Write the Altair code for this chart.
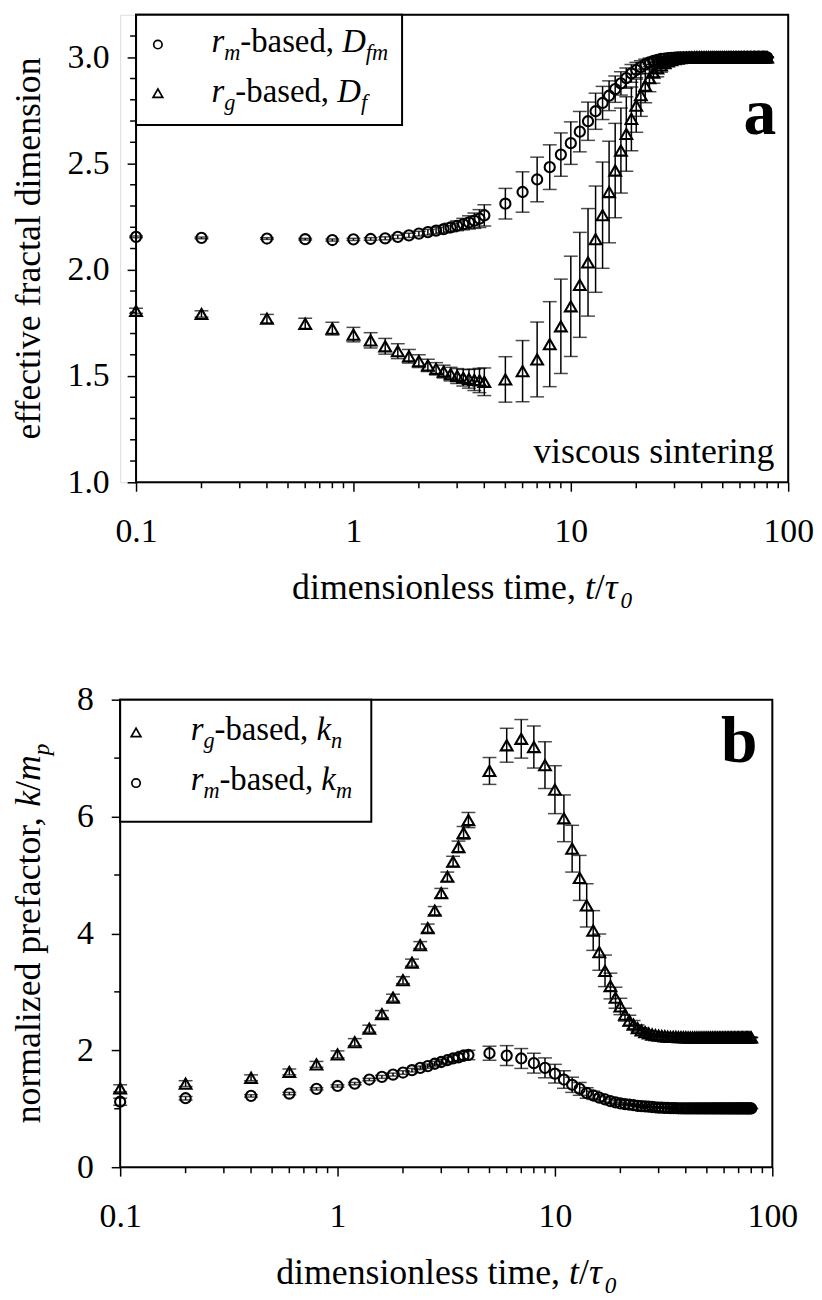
import altair as alt
import pandas as pd

FONT = "Liberation Serif"

# ---------------- data ----------------
t = [0.1, 0.2, 0.4, 0.6, 0.8, 1.0, 1.2, 1.4, 1.6, 1.8, 2.0, 2.2, 2.4, 2.6, 2.8, 3.0, 3.2, 3.4, 3.6, 3.8, 4.0,
     5, 6, 7, 8, 9, 10,
     11, 12, 13, 14, 15, 16, 17, 18, 19, 20,
     21, 22, 23, 24, 25, 26, 27, 28, 29, 30,
     31, 32, 33, 34, 35, 36, 37, 38, 39, 40,
     41, 42, 43, 44, 45, 46, 47, 48, 49, 50,
     51, 52, 53, 54, 55, 56, 57, 58, 59, 60,
     61, 62, 63, 64, 65, 66, 67, 68, 69, 70,
     71, 72, 73, 74, 75, 76, 77, 78, 79, 80]

# panel a: r_m-based D_fm (circles)
Dfm = [2.155, 2.150, 2.147, 2.144, 2.140, 2.143, 2.145, 2.148, 2.155, 2.162, 2.170, 2.177, 2.184, 2.191, 2.199,
       2.207, 2.215, 2.223, 2.231, 2.241, 2.256,
       2.311, 2.366, 2.425, 2.483, 2.542, 2.596,
       2.650, 2.699, 2.746, 2.785, 2.819, 2.850, 2.877, 2.902, 2.924, 2.940,
       2.954, 2.966, 2.976, 2.983, 2.988, 2.992, 2.994, 2.996, 2.997, 2.998,
       2.999, 2.999, 3.000, 3.000, 3.000, 3.000, 3.000, 3.000, 3.000, 3.000,
       3.000, 3.000, 3.000, 3.000, 3.000, 3.000, 3.000, 3.000, 3.000, 3.000,
       3.000, 3.000, 3.000, 3.000, 3.000, 3.000, 3.000, 3.000, 3.000, 3.000,
       3.000, 3.000, 3.000, 3.000, 3.000, 3.000, 3.000, 3.000, 3.000, 3.000,
       3.000, 3.000, 3.000, 3.000, 3.000, 3.000, 3.000, 3.000, 3.000, 3.000]
Dfm_err = [0.004, 0.004, 0.004, 0.004, 0.005, 0.005, 0.006, 0.007, 0.008, 0.010, 0.011, 0.013, 0.015, 0.017, 0.020,
           0.023, 0.027, 0.031, 0.036, 0.042, 0.050,
           0.072, 0.095, 0.105, 0.105, 0.102, 0.100,
           0.095, 0.090, 0.085, 0.078, 0.070, 0.062, 0.055, 0.048, 0.042, 0.036,
           0.030, 0.025, 0.020, 0.016, 0.013, 0.010, 0.008, 0.007, 0.006, 0.005,
           0.005, 0.004, 0.004, 0.004, 0.004, 0.003, 0.003, 0.003, 0.003, 0.003,
           0.003, 0.003, 0.003, 0.003, 0.003, 0.003, 0.003, 0.003, 0.003, 0.003,
           0.002, 0.002, 0.002, 0.002, 0.002, 0.002, 0.002, 0.002, 0.002, 0.002,
           0.002, 0.002, 0.002, 0.002, 0.002, 0.002, 0.002, 0.002, 0.002, 0.002,
           0.002, 0.002, 0.002, 0.002, 0.002, 0.002, 0.002, 0.002, 0.002, 0.002]

# panel a: r_g-based D_f (triangles)
Df = [1.807, 1.792, 1.770, 1.746, 1.723, 1.695, 1.668, 1.640, 1.617, 1.593, 1.570, 1.550, 1.534, 1.521, 1.509,
      1.500, 1.492, 1.487, 1.482, 1.479, 1.473,
      1.484, 1.523, 1.578, 1.650, 1.734, 1.828,
      1.929, 2.035, 2.144, 2.257, 2.366, 2.467, 2.561, 2.639, 2.710, 2.772,
      2.822, 2.866, 2.902, 2.928, 2.948, 2.962, 2.973, 2.981, 2.987, 2.991,
      2.994, 2.996, 2.997, 2.998, 2.999, 2.999, 3.000, 3.000, 3.000, 3.000,
      3.000, 3.000, 3.000, 3.000, 3.000, 3.000, 3.000, 3.000, 3.000, 3.000,
      3.000, 3.000, 3.000, 3.000, 3.000, 3.000, 3.000, 3.000, 3.000, 3.000,
      3.000, 3.000, 3.000, 3.000, 3.000, 3.000, 3.000, 3.000, 3.000, 3.000,
      3.000, 3.000, 3.000, 3.000, 3.000, 3.000, 3.000, 3.000, 3.000, 3.000]
Df_err = [0.012, 0.015, 0.020, 0.026, 0.030, 0.034, 0.036, 0.037, 0.035, 0.032, 0.030, 0.029, 0.029, 0.030, 0.032,
          0.035, 0.039, 0.044, 0.050, 0.057, 0.065,
          0.107, 0.144, 0.176, 0.200, 0.222, 0.236,
          0.247, 0.253, 0.250, 0.250, 0.239, 0.222, 0.200, 0.175, 0.150, 0.125,
          0.100, 0.080, 0.064, 0.050, 0.040, 0.032, 0.025, 0.020, 0.016, 0.013,
          0.010, 0.009, 0.008, 0.007, 0.006, 0.005, 0.005, 0.004, 0.004, 0.004,
          0.003, 0.003, 0.003, 0.003, 0.003, 0.003, 0.003, 0.003, 0.003, 0.003,
          0.003, 0.003, 0.003, 0.003, 0.003, 0.003, 0.003, 0.003, 0.003, 0.003,
          0.002, 0.002, 0.002, 0.002, 0.002, 0.002, 0.002, 0.002, 0.002, 0.002,
          0.002, 0.002, 0.002, 0.002, 0.002, 0.002, 0.002, 0.002, 0.002, 0.002]

# panel b: r_g-based k_n (triangles)
kn = [1.35, 1.43, 1.53, 1.63, 1.76, 1.93, 2.14, 2.37, 2.62, 2.90, 3.20, 3.50, 3.80, 4.09, 4.39,
      4.69, 4.97, 5.23, 5.48, 5.72, 5.94,
      6.78, 7.22, 7.33, 7.19, 6.88, 6.46,
      5.97, 5.45, 4.95, 4.48, 4.05, 3.68, 3.36, 3.10, 2.90, 2.75,
      2.61, 2.51, 2.44, 2.38, 2.34, 2.31, 2.29, 2.27, 2.26, 2.25,
      2.245, 2.24, 2.235, 2.23, 2.23, 2.228, 2.226, 2.225, 2.224, 2.223,
      2.22, 2.22, 2.22, 2.22, 2.22, 2.22, 2.22, 2.22, 2.22, 2.22,
      2.22, 2.22, 2.22, 2.22, 2.22, 2.22, 2.22, 2.22, 2.22, 2.22,
      2.22, 2.22, 2.22, 2.22, 2.22, 2.22, 2.22, 2.22, 2.22, 2.22,
      2.22, 2.22, 2.22, 2.22, 2.22, 2.22, 2.22, 2.22, 2.22, 2.22]
kn_err = [0.06, 0.05, 0.05, 0.05, 0.05, 0.06, 0.06, 0.06, 0.06, 0.06, 0.06, 0.06, 0.06, 0.07, 0.07,
          0.08, 0.08, 0.09, 0.10, 0.11, 0.13,
          0.23, 0.29, 0.33, 0.36, 0.40, 0.41,
          0.40, 0.40, 0.385, 0.37, 0.34, 0.31, 0.27, 0.22, 0.18, 0.14,
          0.11, 0.09, 0.07, 0.055, 0.045, 0.035, 0.028, 0.022, 0.018, 0.015,
          0.013, 0.012, 0.011, 0.010, 0.009, 0.008, 0.008, 0.007, 0.007, 0.006,
          0.006, 0.006, 0.006, 0.006, 0.006, 0.006, 0.006, 0.006, 0.006, 0.006,
          0.005, 0.005, 0.005, 0.005, 0.005, 0.005, 0.005, 0.005, 0.005, 0.005,
          0.005, 0.005, 0.005, 0.005, 0.005, 0.005, 0.005, 0.005, 0.005, 0.005,
          0.005, 0.005, 0.005, 0.005, 0.005, 0.005, 0.005, 0.005, 0.005, 0.005]

# panel b: r_m-based k_m (circles)
km = [1.12, 1.18, 1.22, 1.26, 1.34, 1.39, 1.43, 1.50, 1.545, 1.585, 1.62, 1.66, 1.70, 1.73, 1.77,
      1.80, 1.83, 1.86, 1.88, 1.91, 1.92,
      1.95, 1.91, 1.86, 1.78, 1.70, 1.60,
      1.50, 1.41, 1.34, 1.27, 1.23, 1.19, 1.16, 1.13, 1.11, 1.09,
      1.08, 1.07, 1.06, 1.05, 1.045, 1.04, 1.035, 1.03, 1.025, 1.02,
      1.018, 1.016, 1.014, 1.012, 1.010, 1.009, 1.008, 1.008, 1.007, 1.007,
      1.006, 1.006, 1.006, 1.006, 1.006, 1.006, 1.006, 1.006, 1.006, 1.006,
      1.005, 1.005, 1.005, 1.005, 1.005, 1.005, 1.005, 1.005, 1.005, 1.005,
      1.005, 1.005, 1.005, 1.005, 1.005, 1.005, 1.005, 1.005, 1.005, 1.005,
      1.005, 1.005, 1.005, 1.005, 1.005, 1.005, 1.005, 1.005, 1.005, 1.005]
km_err = [0.06, 0.03, 0.02, 0.02, 0.02, 0.02, 0.02, 0.02, 0.025, 0.025, 0.03, 0.03, 0.03, 0.035, 0.04,
          0.045, 0.05, 0.055, 0.06, 0.07, 0.08,
          0.12, 0.17, 0.17, 0.17, 0.17, 0.16,
          0.15, 0.13, 0.11, 0.09, 0.07, 0.055, 0.045, 0.035, 0.028, 0.022,
          0.018, 0.015, 0.013, 0.011, 0.010, 0.009, 0.008, 0.008, 0.007, 0.007,
          0.006, 0.006, 0.006, 0.005, 0.005, 0.005, 0.005, 0.005, 0.005, 0.005,
          0.004, 0.004, 0.004, 0.004, 0.004, 0.004, 0.004, 0.004, 0.004, 0.004,
          0.004, 0.004, 0.004, 0.004, 0.004, 0.004, 0.004, 0.004, 0.004, 0.004,
          0.004, 0.004, 0.004, 0.004, 0.004, 0.004, 0.004, 0.004, 0.004, 0.004,
          0.004, 0.004, 0.004, 0.004, 0.004, 0.004, 0.004, 0.004, 0.004, 0.004]

x_major = [0.1, 1, 10, 100]
x_minor = [0.2, 0.3, 0.4, 0.5, 0.6, 0.7, 0.8, 0.9, 2, 3, 4, 5, 6, 7, 8, 9, 20, 30, 40, 50, 60, 70, 80, 90]
ya_major = [1.0, 1.5, 2.0, 2.5, 3.0]
ya_minor = [1.1, 1.2, 1.3, 1.4, 1.6, 1.7, 1.8, 1.9, 2.1, 2.2, 2.3, 2.4, 2.6, 2.7, 2.8, 2.9, 3.1]
yb_major = [0, 2, 4, 6, 8]
yb_minor = [1, 3, 5, 7]

df = pd.DataFrame({"t": t, "Dfm": Dfm, "Dfm_err": Dfm_err, "Df": Df, "Df_err": Df_err,
                   "kn": kn, "kn_err": kn_err, "km": km, "km_err": km_err})
for c in ["Dfm", "Df", "kn", "km"]:
    df[c + "_lo"] = df[c] - df[c + "_err"]
    df[c + "_hi"] = df[c] + df[c + "_err"]

# ---------------- layout / style ----------------
W, H = 657, 471
LABEL_FS = 34
TITLE_FS = 36
LEG_FS = 33
SUB = 0.68
one = pd.DataFrame({"k": [0]})

REG = {' ': 0.25, ',': 0.25, '-': 0.333, '/': 0.278, '.': 0.25, 'a': 0.444, 'b': 0.5, 'c': 0.444, 'd': 0.5,
       'e': 0.444, 'f': 0.333, 'g': 0.5, 'h': 0.5, 'i': 0.278, 'k': 0.5, 'l': 0.278, 'm': 0.778, 'n': 0.5,
       'o': 0.5, 'p': 0.5, 'r': 0.333, 's': 0.389, 't': 0.278, 'u': 0.5, 'v': 0.5, 'z': 0.444}
ITA = {'D': 0.722, 'f': 0.278, 'g': 0.5, 'k': 0.444, 'm': 0.722, 'n': 0.5, 'p': 0.5, 'r': 0.389,
       't': 0.278, '\u03c4': 0.44, '0': 0.5, '/': 0.278}


def seg_width(text, italic):
    tbl = ITA if italic else REG
    return sum(tbl.get(c, 0.5) for c in text)


def rich(segments, x0, y0, size, angle=0, anchor="left"):
    widths = [seg_width(s, it) * size * sc for s, it, sc, dy in segments]
    total = sum(widths)
    pos = -total / 2 if anchor == "center" else 0
    out = []
    for (s, it, sc, dy), w in zip(segments, widths):
        if angle == 0:
            x, y = x0 + pos, y0 + dy
        else:
            x, y = x0 + dy, y0 - pos
        out.append(alt.Chart(one).mark_text(
            text=s, font=FONT, fontSize=size * sc, fontStyle="italic" if it else "normal",
            align="left", baseline="alphabetic", angle=angle, color="black"
        ).encode(x=alt.value(x), y=alt.value(y)))
        pos += w
    return out


def plain_text(s, x, y, size, align="left", angle=0, weight="normal"):
    return alt.Chart(one).mark_text(
        text=s, font=FONT, fontSize=size, align=align, baseline="alphabetic", angle=angle,
        fontWeight=weight, color="black"
    ).encode(x=alt.value(x), y=alt.value(y))


def axis_common(values, fmt, pad, offset=0):
    return alt.Axis(values=values, format=fmt, title=None, grid=False, tickSize=9, tickWidth=1.5,
                    tickColor="black", labelPadding=pad, labelFontSize=LABEL_FS, labelFont=FONT,
                    labelColor="black", domain=False, labelFlush=False, labelOverlap=False, offset=offset)


def frame(x0, x1, y0, y1):
    return alt.Chart(one).mark_rect(fillOpacity=0, stroke="black", strokeWidth=2).encode(
        x=alt.value(x0), x2=alt.value(x1), y=alt.value(y0), y2=alt.value(y1))


def build_panel(dx, yscale, yaxis_vals, yfmt, ymin, series, extra):
    # dx: left shift of this panel's plot frame inside its view
    xscale = alt.Scale(type="log", domain=[0.1, 100], nice=False, range=[dx, dx + W])

    def X(field):
        return alt.X(field, scale=xscale, axis=axis_common(x_major, "~g", 24))

    def Y(field):
        return alt.Y(field, scale=yscale, axis=axis_common(yaxis_vals, yfmt, 18, offset=-dx))

    layers = []
    for col, shape, size in series:
        layers.append(alt.Chart(df).mark_errorbar(ticks=True, size=14, thickness=1.5, color="black").encode(
            x=X("t:Q"), y=Y(col + "_lo:Q"), y2=alt.Y2(col + "_hi:Q")))
    for col, shape, size in series:
        layers.append(alt.Chart(df).mark_point(shape=shape, filled=False, size=size, strokeWidth=2.1,
                                               color="black", opacity=1).encode(x=X("t:Q"), y=Y(col + ":Q")))
    layers.append(alt.Chart(pd.DataFrame({"v": x_minor})).mark_rule(color="black", strokeWidth=1.5).encode(
        x=X("v:Q"), y=alt.value(H), y2=alt.value(H + 6)))
    layers.append(alt.Chart(pd.DataFrame({"v": ymin})).mark_rule(color="black", strokeWidth=1.5).encode(
        y=Y("v:Q"), x=alt.value(dx - 6), x2=alt.value(dx)))
    layers.append(frame(dx, dx + W, 0, H))
    layers += extra
    return alt.layer(*layers).properties(width=W + dx, height=H)


# ---------- panel a (frame starts 16 px right of panel b's) ----------
DA = 16
ext_a = [
    alt.Chart(one).mark_rect(fill="white", stroke="black", strokeWidth=2).encode(
        x=alt.value(DA), x2=alt.value(DA + 268), y=alt.value(0), y2=alt.value(111)),
    alt.Chart(one).mark_point(shape="circle", filled=False, size=72, strokeWidth=1.7, color="black",
                              opacity=1).encode(x=alt.value(DA + 22), y=alt.value(30)),
    alt.Chart(one).mark_point(shape="triangle-up", filled=False, size=95, strokeWidth=1.7, color="black",
                              opacity=1).encode(x=alt.value(DA + 22), y=alt.value(79)),
]
ext_a += rich([("r", True, 1, 0), ("m", True, SUB, 8), ("-based, ", False, 1, 0), ("D", True, 1, 0),
               ("fm", True, SUB, 8)], DA + 76, 38, LEG_FS)
ext_a += rich([("r", True, 1, 0), ("g", True, SUB, 8), ("-based, ", False, 1, 0), ("D", True, 1, 0),
               ("f", True, SUB, 8)], DA + 76, 88, LEG_FS)
ext_a.append(plain_text("a", DA + 645, 120, 66, align="right", weight="bold"))
ext_a.append(plain_text("viscous sintering", DA + 643, 452, TITLE_FS, align="right"))
ext_a.append(plain_text("effective fractal dimension", DA - 97, H / 2, TITLE_FS, align="center", angle=270))
ext_a += rich([("dimensionless time, ", False, 1, 0), ("t", True, 1, 0), ("/", False, 1, 0),
               ("\u03c4", True, 1, 0), ("0", True, 0.65, 9)], DA + W / 2, H + 118, TITLE_FS, anchor="center")

panel_a = build_panel(DA, alt.Scale(domain=[1.0, 3.2], nice=False, zero=False), ya_major, ".1f", ya_minor,
                      [("Df", "triangle-up", 140), ("Dfm", "circle", 105)], ext_a)

# ---------- panel b ----------
ext_b = [
    alt.Chart(one).mark_rect(fill="white", stroke="black", strokeWidth=2).encode(
        x=alt.value(0), x2=alt.value(253), y=alt.value(0), y2=alt.value(123)),
    alt.Chart(one).mark_point(shape="triangle-up", filled=False, size=95, strokeWidth=1.7, color="black",
                              opacity=1).encode(x=alt.value(16), y=alt.value(33)),
    alt.Chart(one).mark_point(shape="circle", filled=False, size=72, strokeWidth=1.7, color="black",
                              opacity=1).encode(x=alt.value(16), y=alt.value(84)),
]
ext_b += rich([("r", True, 1, 0), ("g", True, SUB, 8), ("-based, ", False, 1, 0), ("k", True, 1, 0),
               ("n", True, SUB, 8)], 71, 41, LEG_FS)
ext_b += rich([("r", True, 1, 0), ("m", True, SUB, 8), ("-based, ", False, 1, 0), ("k", True, 1, 0),
               ("m", True, SUB, 8)], 71, 91, LEG_FS)
ext_b.append(plain_text("b", 642, 63, 66, align="right", weight="bold"))
ext_b += rich([("normalized prefactor, ", False, 1, 0), ("k", True, 1, 0), ("/", False, 1, 0),
               ("m", True, 1, 0), ("p", True, 0.65, 9)], -81, H / 2, TITLE_FS, angle=270, anchor="center")
ext_b += rich([("dimensionless time, ", False, 1, 0), ("t", True, 1, 0), ("/", False, 1, 0),
               ("\u03c4", True, 1, 0), ("0", True, 0.65, 9)], W / 2, H + 118, TITLE_FS, anchor="center")

panel_b = build_panel(0, alt.Scale(domain=[0, 8], nice=False, zero=False), yb_major, "d", yb_minor,
                      [("kn", "triangle-up", 140), ("km", "circle", 105)], ext_b)

chart = alt.vconcat(panel_a, panel_b, spacing=69).properties(
    padding={"left": 2, "top": 0, "right": 0, "bottom": 0}
).configure_view(stroke="transparent", strokeWidth=0).configure(font=FONT)

chart.save("out.html", embed_options={"renderer": "svg", "actions": False})
